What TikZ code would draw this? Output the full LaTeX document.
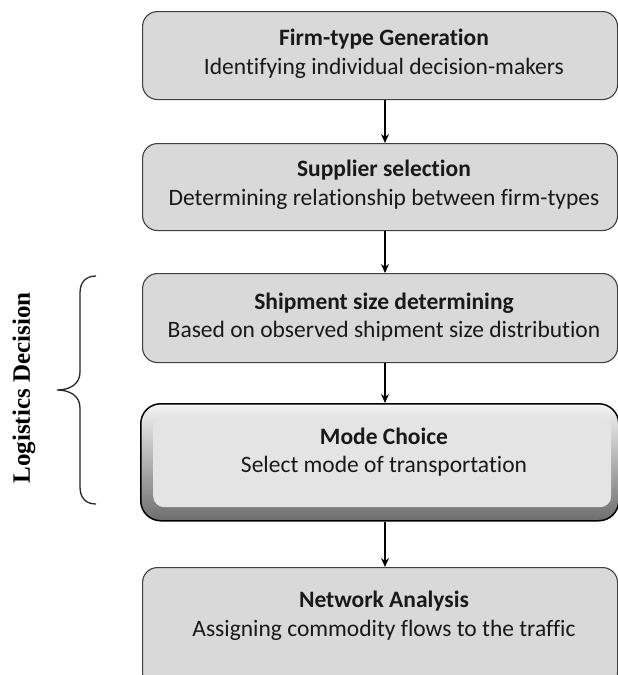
\documentclass[tikz,border=0pt]{standalone}
\usepackage{fontspec}
\setmainfont[Ligatures={NoCommon}]{Carlito}
\newfontfamily\tnr{Liberation Serif}
\usetikzlibrary{arrows.meta}
\definecolor{boxfill}{HTML}{D9D9D9}
\definecolor{boxline}{HTML}{404040}
\definecolor{facefill}{HTML}{E4E4E4}
\definecolor{bevtop}{HTML}{F4F4F4}
\definecolor{bevbot}{HTML}{6E6E6E}
\begin{document}
\begin{tikzpicture}[x=1pt,y=-1pt,
  stagebox/.style={draw=boxline, line width=1.1pt, fill=boxfill, rounded corners=15pt,
    minimum width=475pt, inner sep=0pt, anchor=north west},
  stagetext/.style={align=center, font=\fontsize{23.5}{28.5}\selectfont, text=black!90, inner sep=0pt},
  flow/.style={draw=black, line width=1.1pt, -{Stealth[length=9pt,width=8pt]}}]
\useasboundingbox (0,0) rectangle (618,675);
\coordinate (axis) at (385,0);

% boxes
\node[stagebox, minimum height=88pt] (b1) at (142,11) {};
\node[stagebox, minimum height=87pt] (b2) at (142,143) {};
\node[stagebox, minimum height=89pt] (b3) at (142,273) {};
\node[draw=black, line width=1.5pt, top color=bevtop, bottom color=bevbot, rounded corners=20pt,
  minimum width=478pt, minimum height=117pt, inner sep=0pt, anchor=north west] (b4) at (140,403) {};
\node[fill=facefill, rounded corners=11pt, minimum width=458pt, minimum height=90pt,
  inner sep=0pt, anchor=north west] (f4) at (153,417) {};
\node[stagebox, minimum height=120pt] (b5) at (142,567) {};

% texts
\node[stagetext] (t1) at (384,54) {\textbf{Firm-type Generation}\\Identifying individual decision-makers};
\node[stagetext] (t2) at (384,185) {\textbf{Supplier selection}\\Determining relationship between firm-types};
\node[stagetext] (t3) at (384,317) {\textbf{Shipment size determining}\\Based on observed shipment size distribution};
\node[stagetext] (t4) at (384,452) {\textbf{Mode Choice}\\Select mode of transportation};
\node[stagetext] (t5) at (384,616) {\textbf{Network Analysis}\\Assigning commodity flows to the traffic};

% connectors
\draw[flow] (b1.south -| axis) -- (b2.north -| axis);
\draw[flow] (b2.south -| axis) -- (b3.north -| axis);
\draw[flow] (b3.south -| axis) -- (b4.north -| axis);
\draw[flow] (b4.south -| axis) -- (b5.north -| axis);

% brace
\draw[line width=1.3pt, color=black!85] (96,276) .. controls (86,276) and (80,282) .. (80,293)
  -- (80,372) .. controls (80,384) and (70,390) .. (57,390)
  .. controls (70,390) and (80,396) .. (80,408)
  -- (80,487) .. controls (80,498) and (86,504) .. (96,504);
\node[rotate=90, font=\tnr\bfseries\fontsize{25}{29}\selectfont, inner sep=0pt] (lab) at (24,388) {Logistics Decision};
\end{tikzpicture}
\end{document}
